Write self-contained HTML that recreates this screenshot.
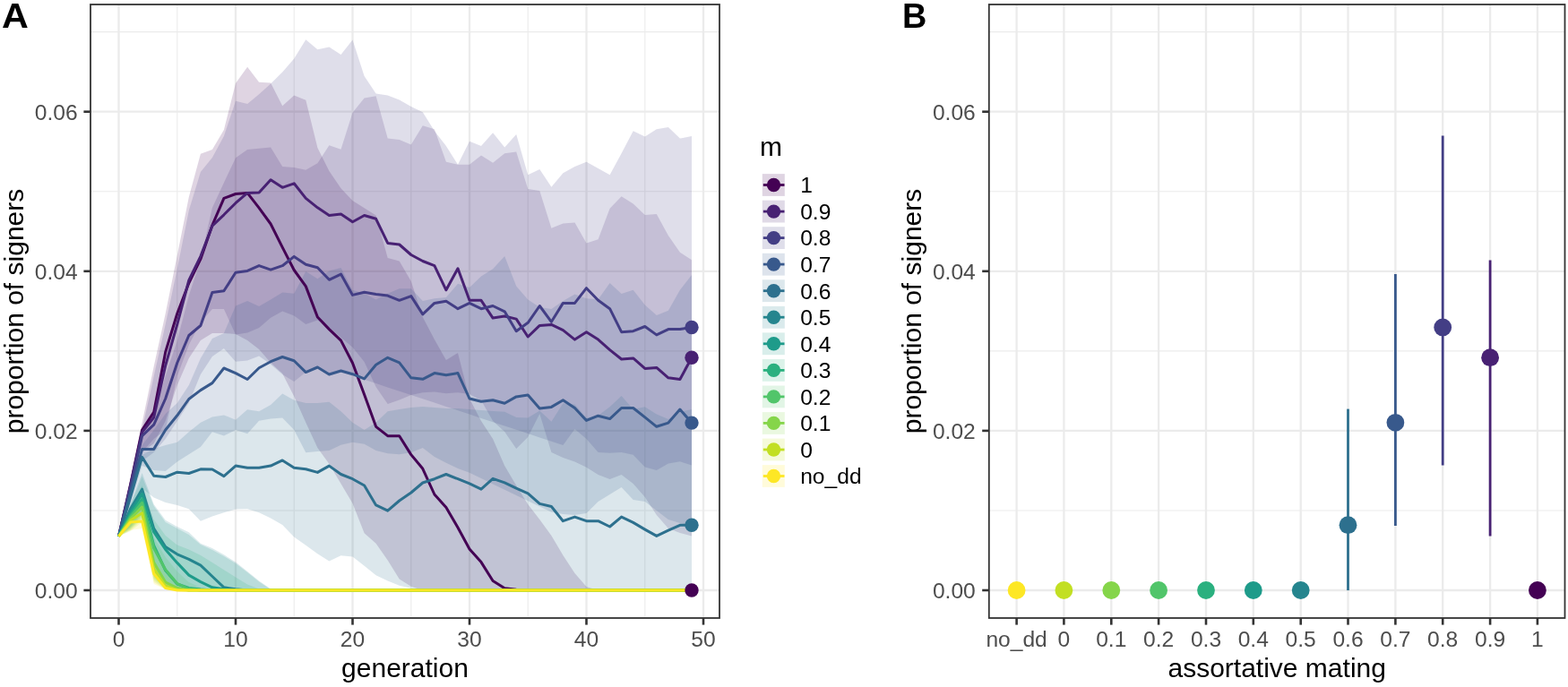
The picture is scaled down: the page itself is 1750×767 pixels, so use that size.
<!DOCTYPE html>
<html><head><meta charset="utf-8"><title>Figure</title>
<style>html,body{margin:0;padding:0;background:#fff;width:1750px;height:767px;overflow:hidden}</style>
</head><body>
<svg width="1750" height="767" viewBox="0 0 1750 767" style="display:block">
<rect width="1750" height="767" fill="#fff"/>
<g id="gridA" stroke="#EBEBEB" fill="none">
<line x1="101.0" x2="803.0" y1="570.0" y2="570.0" stroke-width="1.1"/>
<line x1="101.0" x2="803.0" y1="391.9" y2="391.9" stroke-width="1.1"/>
<line x1="101.0" x2="803.0" y1="213.8" y2="213.8" stroke-width="1.1"/>
<line x1="101.0" x2="803.0" y1="35.6" y2="35.6" stroke-width="1.1"/>
<line y1="5.0" y2="690.0" x1="197.8" x2="197.8" stroke-width="1.1"/>
<line y1="5.0" y2="690.0" x1="328.2" x2="328.2" stroke-width="1.1"/>
<line y1="5.0" y2="690.0" x1="458.8" x2="458.8" stroke-width="1.1"/>
<line y1="5.0" y2="690.0" x1="589.2" x2="589.2" stroke-width="1.1"/>
<line y1="5.0" y2="690.0" x1="719.8" x2="719.8" stroke-width="1.1"/>
<line x1="101.0" x2="803.0" y1="659.0" y2="659.0" stroke-width="2.3"/>
<line x1="101.0" x2="803.0" y1="480.9" y2="480.9" stroke-width="2.3"/>
<line x1="101.0" x2="803.0" y1="302.8" y2="302.8" stroke-width="2.3"/>
<line x1="101.0" x2="803.0" y1="124.7" y2="124.7" stroke-width="2.3"/>
<line y1="5.0" y2="690.0" x1="132.5" x2="132.5" stroke-width="2.3"/>
<line y1="5.0" y2="690.0" x1="263.0" x2="263.0" stroke-width="2.3"/>
<line y1="5.0" y2="690.0" x1="393.5" x2="393.5" stroke-width="2.3"/>
<line y1="5.0" y2="690.0" x1="524.0" x2="524.0" stroke-width="2.3"/>
<line y1="5.0" y2="690.0" x1="654.5" x2="654.5" stroke-width="2.3"/>
<line y1="5.0" y2="690.0" x1="785.0" x2="785.0" stroke-width="2.3"/>
</g>
<g id="ribbons" stroke="none">
<polygon points="132.5,598.8 145.6,535.0 158.6,472.0 171.7,409.0 184.7,350.0 197.8,285.0 210.8,220.0 223.9,171.7 236.9,167.0 249.9,145.0 263.0,92.9 276.1,74.8 289.1,91.8 302.1,92.6 315.2,118.3 328.2,106.4 341.3,111.8 354.4,165.0 367.4,191.1 380.5,210.3 393.5,224.0 406.6,232.3 419.6,240.5 432.7,288.0 445.7,291.4 458.8,314.0 471.8,354.0 484.9,379.0 497.9,402.0 511.0,394.0 524.0,445.0 537.0,470.0 550.1,490.0 563.2,520.0 576.2,542.0 589.2,563.0 602.3,580.0 615.4,598.0 628.4,620.0 641.5,640.0 654.5,655.0 667.6,659.0 667.6,659.0 654.5,659.0 641.5,659.0 628.4,659.0 615.4,659.0 602.3,659.0 589.2,659.0 576.2,659.0 563.2,659.0 550.1,659.0 537.0,659.0 524.0,659.0 511.0,659.0 497.9,659.0 484.9,659.0 471.8,659.0 458.8,654.7 445.7,646.4 432.7,625.5 419.6,606.8 406.6,595.3 393.5,562.0 380.5,540.0 367.4,518.0 354.4,500.0 341.3,471.8 328.2,442.6 315.2,417.0 302.1,405.0 289.1,390.0 276.1,380.0 263.0,373.0 249.9,372.0 236.9,372.0 223.9,380.0 210.8,400.0 197.8,430.0 184.7,470.0 171.7,495.0 158.6,505.0 145.6,556.0 132.5,598.8" fill="#440154" fill-opacity="0.17"/>
<polygon points="132.5,598.8 145.6,539.0 158.6,487.0 171.7,462.0 184.7,420.0 197.8,380.0 210.8,330.0 223.9,290.0 236.9,232.0 249.9,204.0 263.0,176.3 276.1,167.1 289.1,165.8 302.1,164.4 315.2,185.9 328.2,187.0 341.3,189.8 354.4,182.2 367.4,162.3 380.5,166.7 393.5,125.8 406.6,109.4 419.6,107.3 432.7,154.6 445.7,156.0 458.8,161.5 471.8,140.2 484.9,144.2 497.9,180.7 511.0,183.8 524.0,183.8 537.0,173.4 550.1,181.7 563.2,171.3 576.2,169.6 589.2,210.9 602.3,213.0 615.4,254.7 628.4,249.5 641.5,248.5 654.5,271.4 667.6,267.2 680.6,232.8 693.6,219.3 706.7,227.6 719.8,240.1 732.8,239.1 745.9,263.1 758.9,281.8 772.0,290.2 772.0,598.4 758.9,595.0 745.9,590.0 732.8,575.0 719.8,555.0 706.7,540.0 693.6,530.0 680.6,535.0 667.6,530.0 654.5,521.8 641.5,515.5 628.4,511.0 615.4,505.0 602.3,462.0 589.2,488.0 576.2,501.0 563.2,482.0 550.1,470.0 537.0,447.0 524.0,440.0 511.0,438.3 497.9,439.2 484.9,437.4 471.8,438.3 458.8,441.0 445.7,446.5 432.7,451.0 419.6,432.0 406.6,404.0 393.5,387.8 380.5,376.8 367.4,365.8 354.4,357.6 341.3,362.0 328.2,352.6 315.2,347.4 302.1,354.7 289.1,366.1 276.1,371.4 263.0,373.4 249.9,345.0 236.9,345.0 223.9,360.0 210.8,385.0 197.8,420.0 184.7,480.0 171.7,490.0 158.6,505.0 145.6,557.0 132.5,598.8" fill="#482173" fill-opacity="0.17"/>
<polygon points="132.5,598.8 145.6,537.0 158.6,480.0 171.7,420.0 184.7,362.0 197.8,300.0 210.8,235.0 223.9,192.0 236.9,176.0 249.9,152.0 263.0,112.8 276.1,116.0 289.1,105.3 302.1,93.6 315.2,80.6 328.2,65.5 341.3,44.2 354.4,55.3 367.4,52.6 380.5,60.9 393.5,44.4 406.6,85.0 419.6,104.6 432.7,106.6 445.7,111.4 458.8,119.0 471.8,125.2 484.9,146.3 497.9,163.0 511.0,183.8 524.0,157.7 537.0,162.9 550.1,148.3 563.2,164.6 576.2,150.0 589.2,195.3 602.3,189.0 615.4,208.8 628.4,193.2 641.5,185.9 654.5,180.7 667.6,188.0 680.6,195.3 693.6,171.3 706.7,146.3 719.8,152.5 732.8,144.2 745.9,142.1 758.9,154.6 772.0,152.1 772.0,519.5 758.9,515.3 745.9,517.4 732.8,525.0 719.8,521.5 706.7,507.8 693.6,505.0 680.6,505.7 667.6,505.0 654.5,490.0 641.5,479.0 628.4,497.0 615.4,492.7 602.3,488.4 589.2,484.1 576.2,479.8 563.2,475.5 550.1,471.2 537.0,466.9 524.0,462.6 511.0,458.2 497.9,453.9 484.9,449.6 471.8,445.3 458.8,441.0 445.7,436.7 432.7,432.4 419.6,428.1 406.6,423.8 393.5,417.5 380.5,414.4 367.4,417.5 354.4,409.2 341.3,415.5 328.2,425.9 315.2,418.0 302.1,406.8 289.1,397.4 276.1,402.6 263.0,403.7 249.9,389.1 236.9,398.0 223.9,418.0 210.8,450.0 197.8,470.0 184.7,490.0 171.7,505.0 158.6,515.0 145.6,558.0 132.5,598.8" fill="#433E85" fill-opacity="0.17"/>
<polygon points="132.5,598.8 145.6,543.0 158.6,497.0 171.7,480.0 184.7,462.0 197.8,450.0 210.8,430.0 223.9,400.0 236.9,378.0 249.9,372.0 263.0,341.5 276.1,336.0 289.1,342.0 302.1,334.6 315.2,326.4 328.2,327.8 341.3,303.1 354.4,311.3 367.4,302.4 380.5,299.0 393.5,323.7 406.6,327.8 419.6,334.6 432.7,327.8 445.7,322.3 458.8,322.3 471.8,336.0 484.9,333.3 497.9,331.9 511.0,316.8 524.0,320.9 537.0,308.6 550.1,300.3 563.2,286.0 576.2,319.5 589.2,334.6 602.3,342.9 615.4,345.0 628.4,336.0 641.5,328.5 654.5,333.3 667.6,334.3 680.6,316.0 693.6,328.0 706.7,323.8 719.8,340.5 732.8,352.0 745.9,346.7 758.9,323.8 772.0,307.1 772.0,586.9 758.9,584.0 745.9,580.0 732.8,570.0 719.8,560.0 706.7,558.0 693.6,544.0 680.6,552.0 667.6,560.0 654.5,573.0 641.5,575.0 628.4,574.0 615.4,571.8 602.3,565.6 589.2,559.3 576.2,553.0 563.2,546.7 550.1,540.4 537.0,534.1 524.0,527.8 511.0,523.0 497.9,516.8 484.9,510.0 471.8,500.0 458.8,505.2 445.7,507.2 432.7,506.2 419.6,503.1 406.6,495.8 393.5,493.7 380.5,496.8 367.4,503.1 354.4,504.1 341.3,505.2 328.2,480.1 315.2,466.6 302.1,467.6 289.1,469.7 276.1,484.3 263.0,480.1 249.9,486.4 236.9,482.2 223.9,498.9 210.8,507.2 197.8,515.6 184.7,526.0 171.7,525.0 158.6,520.0 145.6,562.0 132.5,598.8" fill="#38598C" fill-opacity="0.17"/>
<polygon points="132.5,598.8 145.6,548.0 158.6,508.0 171.7,501.0 184.7,497.0 197.8,493.7 210.8,482.2 223.9,471.8 236.9,465.5 249.9,463.4 263.0,468.7 276.1,457.2 289.1,459.3 302.1,452.0 315.2,439.4 328.2,446.8 341.3,449.9 354.4,449.9 367.4,448.8 380.5,459.3 393.5,471.8 406.6,480.1 419.6,471.8 432.7,459.3 445.7,457.0 458.8,455.0 471.8,454.0 484.9,455.0 497.9,456.0 511.0,456.0 524.0,457.0 537.0,458.0 550.1,459.0 563.2,459.8 576.2,466.0 589.2,466.6 602.3,458.4 615.4,470.7 628.4,450.2 641.5,451.5 654.5,466.6 667.6,463.9 680.6,454.3 693.6,441.9 706.7,457.0 719.8,454.3 732.8,462.5 745.9,468.0 758.9,459.8 772.0,457.0 772.0,659.0 758.9,659.0 745.9,659.0 732.8,659.0 719.8,659.0 706.7,659.0 693.6,659.0 680.6,659.0 667.6,659.0 654.5,659.0 641.5,659.0 628.4,659.0 615.4,659.0 602.3,659.0 589.2,659.0 576.2,659.0 563.2,659.0 550.1,659.0 537.0,659.0 524.0,659.0 511.0,659.0 497.9,659.0 484.9,659.0 471.8,659.0 458.8,656.8 445.7,653.7 432.7,648.5 419.6,642.2 406.6,631.8 393.5,621.4 380.5,620.3 367.4,626.6 354.4,618.2 341.3,608.8 328.2,599.4 315.2,585.9 302.1,578.6 289.1,572.3 276.1,568.2 263.0,568.6 249.9,572.3 236.9,576.5 223.9,581.7 210.8,568.2 197.8,564.0 184.7,560.9 171.7,555.6 158.6,545.0 145.6,568.0 132.5,598.8" fill="#2D708E" fill-opacity="0.17"/>
<polygon points="132.5,598.8 145.6,562.0 158.6,528.0 171.7,562.9 184.7,580.7 197.8,588.0 210.8,594.2 223.9,606.8 236.9,612.0 249.9,619.3 263.0,627.6 276.1,638.0 289.1,648.5 302.1,657.6 315.2,659.0 315.2,659.0 302.1,659.0 289.1,659.0 276.1,659.0 263.0,659.0 249.9,659.0 236.9,659.0 223.9,659.0 210.8,659.0 197.8,659.0 184.7,655.0 171.7,640.0 158.6,572.0 145.6,588.0 132.5,598.8" fill="#25858E" fill-opacity="0.17"/>
<polygon points="132.5,598.8 145.6,564.0 158.6,532.0 171.7,565.0 184.7,583.0 197.8,590.0 210.8,597.0 223.9,608.0 236.9,614.0 249.9,621.0 263.0,629.0 276.1,639.0 289.1,649.5 302.1,658.0 315.2,659.0 315.2,659.0 302.1,659.0 289.1,659.0 276.1,659.0 263.0,659.0 249.9,659.0 236.9,659.0 223.9,659.0 210.8,659.0 197.8,659.0 184.7,656.0 171.7,642.0 158.6,574.0 145.6,589.0 132.5,598.8" fill="#1E9B8A" fill-opacity="0.17"/>
<polygon points="132.5,598.8 145.6,567.0 158.6,542.0 171.7,580.0 184.7,598.0 197.8,608.5 210.8,613.4 223.9,619.9 236.9,628.0 249.9,636.2 263.0,644.4 276.1,652.5 289.1,657.4 302.1,659.0 302.1,659.0 289.1,659.0 276.1,659.0 263.0,659.0 249.9,659.0 236.9,659.0 223.9,659.0 210.8,659.0 197.8,659.0 184.7,657.0 171.7,644.0 158.6,576.0 145.6,590.0 132.5,598.8" fill="#2BB07F" fill-opacity="0.17"/>
<polygon points="132.5,598.8 145.6,570.0 158.6,550.0 171.7,600.0 184.7,622.0 197.8,638.0 210.8,650.0 223.9,656.0 236.9,659.0 236.9,659.0 223.9,659.0 210.8,659.0 197.8,659.0 184.7,657.0 171.7,646.0 158.6,578.0 145.6,591.0 132.5,598.8" fill="#51C56A" fill-opacity="0.17"/>
<polygon points="132.5,598.8 145.6,573.0 158.6,558.0 171.7,612.0 184.7,640.0 197.8,652.0 210.8,659.0 210.8,659.0 197.8,659.0 184.7,658.0 171.7,648.0 158.6,580.0 145.6,592.0 132.5,598.8" fill="#85D54A" fill-opacity="0.17"/>
<polygon points="132.5,598.8 145.6,576.0 158.6,565.0 171.7,625.0 184.7,648.0 197.8,656.0 210.8,659.0 210.8,659.0 197.8,659.0 184.7,658.0 171.7,650.0 158.6,583.0 145.6,593.0 132.5,598.8" fill="#C2DF23" fill-opacity="0.17"/>
<polygon points="132.5,598.8 145.6,578.0 158.6,576.0 171.7,630.0 184.7,652.0 197.8,659.0 197.8,659.0 184.7,658.0 171.7,652.0 158.6,590.0 145.6,592.0 132.5,598.8" fill="#FDE725" fill-opacity="0.17"/>
</g>
<g id="lines" fill="none" stroke-width="3.0" stroke-linejoin="round">
<polyline points="132.5,598.8 145.6,541.0 158.6,480.0 171.7,460.2 184.7,393.0 197.8,350.0 210.8,316.0 223.9,289.2 236.9,251.5 249.9,221.3 263.0,216.5 276.1,215.4 289.1,232.2 302.1,250.0 315.2,276.1 328.2,301.5 341.3,319.6 354.4,354.0 367.4,367.6 380.5,380.1 393.5,405.2 406.6,440.5 419.6,476.3 432.7,486.7 445.7,486.7 458.8,507.6 471.8,523.3 484.9,552.0 497.9,566.5 511.0,589.0 524.0,613.0 537.0,627.6 550.1,648.5 563.2,656.8 576.2,658.3 589.2,659.0 602.3,659.0 615.4,659.0 628.4,659.0 641.5,659.0 654.5,659.0 667.6,659.0 680.6,659.0 693.6,659.0 706.7,659.0 719.8,659.0 732.8,659.0 745.9,659.0 758.9,659.0 772.0,659.0" stroke="#440154"/>
<polyline points="132.5,598.8 145.6,542.0 158.6,482.6 171.7,466.0 184.7,408.0 197.8,362.0 210.8,313.0 223.9,286.1 236.9,252.1 249.9,239.8 263.0,226.7 276.1,215.4 289.1,215.1 302.1,200.7 315.2,209.3 328.2,204.8 341.3,221.4 354.4,231.8 367.4,240.5 380.5,239.0 393.5,247.8 406.6,240.5 419.6,244.3 432.7,271.4 445.7,273.0 458.8,284.5 471.8,291.5 484.9,296.7 497.9,323.8 511.0,299.8 524.0,335.3 537.0,335.3 550.1,355.1 563.2,353.0 576.2,356.1 589.2,376.0 602.3,363.4 615.4,362.4 628.4,368.7 641.5,379.1 654.5,370.7 667.6,379.1 680.6,390.6 693.6,401.0 706.7,399.9 719.8,411.4 732.8,410.4 745.9,421.8 758.9,423.5 772.0,399.3" stroke="#482173"/>
<polyline points="132.5,598.8 145.6,544.0 158.6,486.7 171.7,474.2 184.7,445.0 197.8,405.0 210.8,374.5 223.9,363.5 236.9,326.5 249.9,324.8 263.0,304.2 276.1,302.4 289.1,296.6 302.1,301.2 315.2,296.7 328.2,286.4 341.3,295.2 354.4,298.8 367.4,312.3 380.5,306.1 393.5,329.4 406.6,326.3 419.6,328.4 432.7,330.1 445.7,335.3 458.8,330.6 471.8,350.9 484.9,338.4 497.9,336.3 511.0,344.7 524.0,338.4 537.0,344.7 550.1,341.5 563.2,347.8 576.2,369.7 589.2,360.3 602.3,341.5 615.4,359.3 628.4,338.4 641.5,338.4 654.5,321.7 667.6,335.3 680.6,344.7 693.6,370.7 706.7,369.7 719.8,364.5 732.8,373.9 745.9,367.6 758.9,367.6 772.0,365.5" stroke="#433E85"/>
<polyline points="132.5,598.8 145.6,549.0 158.6,501.4 171.7,501.4 184.7,480.0 197.8,463.8 210.8,445.5 223.9,435.6 236.9,427.6 249.9,411.0 263.0,416.6 276.1,423.5 289.1,410.7 302.1,403.7 315.2,398.5 328.2,402.7 341.3,415.6 354.4,410.0 367.4,418.0 380.5,414.0 393.5,417.7 406.6,422.9 419.6,407.2 432.7,399.3 445.7,404.8 458.8,421.8 471.8,423.3 484.9,416.6 497.9,418.7 511.0,416.6 524.0,445.0 537.0,448.2 550.1,446.7 563.2,450.2 576.2,442.9 589.2,440.9 602.3,455.9 615.4,454.4 628.4,446.7 641.5,455.5 654.5,469.4 667.6,464.2 680.6,467.6 693.6,455.5 706.7,455.5 719.8,465.9 732.8,476.3 745.9,472.1 758.9,457.1 772.0,472.1" stroke="#38598C"/>
<polyline points="132.5,598.8 145.6,555.0 158.6,510.4 171.7,531.3 184.7,532.5 197.8,527.2 210.8,528.5 223.9,523.8 236.9,524.0 249.9,531.6 263.0,520.1 276.1,522.2 289.1,522.2 302.1,520.1 315.2,513.9 328.2,522.2 341.3,523.7 354.4,527.4 367.4,520.1 380.5,529.5 393.5,534.7 406.6,542.0 419.6,563.9 432.7,570.2 445.7,559.0 458.8,550.0 471.8,539.0 484.9,534.7 497.9,529.5 511.0,534.7 524.0,539.9 537.0,546.2 550.1,534.3 563.2,538.9 576.2,545.2 589.2,550.8 602.3,562.4 615.4,565.5 628.4,581.7 641.5,577.1 654.5,581.7 667.6,581.7 680.6,588.0 693.6,577.1 706.7,583.4 719.8,591.1 732.8,598.4 745.9,592.1 758.9,586.3 772.0,586.3" stroke="#2D708E"/>
<polyline points="132.5,598.8 145.6,568.0 158.6,546.2 171.7,590.1 184.7,610.6 197.8,618.8 210.8,624.3 223.9,631.2 236.9,643.5 249.9,655.8 263.0,657.8 276.1,659.0 289.1,659.0 302.1,659.0 315.2,659.0 328.2,659.0 341.3,659.0 354.4,659.0 367.4,659.0 380.5,659.0 393.5,659.0 406.6,659.0 419.6,659.0 432.7,659.0 445.7,659.0 458.8,659.0 471.8,659.0 484.9,659.0 497.9,659.0 511.0,659.0 524.0,659.0 537.0,659.0 550.1,659.0 563.2,659.0 576.2,659.0 589.2,659.0 602.3,659.0 615.4,659.0 628.4,659.0 641.5,659.0 654.5,659.0 667.6,659.0 680.6,659.0 693.6,659.0 706.7,659.0 719.8,659.0 732.8,659.0 745.9,659.0 758.9,659.0 772.0,659.0" stroke="#25858E"/>
<polyline points="132.5,598.8 145.6,572.0 158.6,551.4 171.7,594.0 184.7,613.4 197.8,628.4 210.8,642.1 223.9,649.6 236.9,655.8 249.9,657.8 263.0,659.0 276.1,659.0 289.1,659.0 302.1,659.0 315.2,659.0 328.2,659.0 341.3,659.0 354.4,659.0 367.4,659.0 380.5,659.0 393.5,659.0 406.6,659.0 419.6,659.0 432.7,659.0 445.7,659.0 458.8,659.0 471.8,659.0 484.9,659.0 497.9,659.0 511.0,659.0 524.0,659.0 537.0,659.0 550.1,659.0 563.2,659.0 576.2,659.0 589.2,659.0 602.3,659.0 615.4,659.0 628.4,659.0 641.5,659.0 654.5,659.0 667.6,659.0 680.6,659.0 693.6,659.0 706.7,659.0 719.8,659.0 732.8,659.0 745.9,659.0 758.9,659.0 772.0,659.0" stroke="#1E9B8A"/>
<polyline points="132.5,598.8 145.6,575.0 158.6,557.1 171.7,609.0 184.7,637.0 197.8,652.0 210.8,656.5 223.9,658.0 236.9,659.0 249.9,659.0 263.0,659.0 276.1,659.0 289.1,659.0 302.1,659.0 315.2,659.0 328.2,659.0 341.3,659.0 354.4,659.0 367.4,659.0 380.5,659.0 393.5,659.0 406.6,659.0 419.6,659.0 432.7,659.0 445.7,659.0 458.8,659.0 471.8,659.0 484.9,659.0 497.9,659.0 511.0,659.0 524.0,659.0 537.0,659.0 550.1,659.0 563.2,659.0 576.2,659.0 589.2,659.0 602.3,659.0 615.4,659.0 628.4,659.0 641.5,659.0 654.5,659.0 667.6,659.0 680.6,659.0 693.6,659.0 706.7,659.0 719.8,659.0 732.8,659.0 745.9,659.0 758.9,659.0 772.0,659.0" stroke="#2BB07F"/>
<polyline points="132.5,598.8 145.6,577.0 158.6,561.3 171.7,612.0 184.7,636.0 197.8,651.5 210.8,657.5 223.9,659.0 236.9,659.0 249.9,659.0 263.0,659.0 276.1,659.0 289.1,659.0 302.1,659.0 315.2,659.0 328.2,659.0 341.3,659.0 354.4,659.0 367.4,659.0 380.5,659.0 393.5,659.0 406.6,659.0 419.6,659.0 432.7,659.0 445.7,659.0 458.8,659.0 471.8,659.0 484.9,659.0 497.9,659.0 511.0,659.0 524.0,659.0 537.0,659.0 550.1,659.0 563.2,659.0 576.2,659.0 589.2,659.0 602.3,659.0 615.4,659.0 628.4,659.0 641.5,659.0 654.5,659.0 667.6,659.0 680.6,659.0 693.6,659.0 706.7,659.0 719.8,659.0 732.8,659.0 745.9,659.0 758.9,659.0 772.0,659.0" stroke="#51C56A"/>
<polyline points="132.5,598.8 145.6,579.0 158.6,566.0 171.7,628.0 184.7,650.0 197.8,656.5 210.8,659.0 223.9,659.0 236.9,659.0 249.9,659.0 263.0,659.0 276.1,659.0 289.1,659.0 302.1,659.0 315.2,659.0 328.2,659.0 341.3,659.0 354.4,659.0 367.4,659.0 380.5,659.0 393.5,659.0 406.6,659.0 419.6,659.0 432.7,659.0 445.7,659.0 458.8,659.0 471.8,659.0 484.9,659.0 497.9,659.0 511.0,659.0 524.0,659.0 537.0,659.0 550.1,659.0 563.2,659.0 576.2,659.0 589.2,659.0 602.3,659.0 615.4,659.0 628.4,659.0 641.5,659.0 654.5,659.0 667.6,659.0 680.6,659.0 693.6,659.0 706.7,659.0 719.8,659.0 732.8,659.0 745.9,659.0 758.9,659.0 772.0,659.0" stroke="#85D54A"/>
<polyline points="132.5,598.8 145.6,581.0 158.6,572.8 171.7,635.0 184.7,654.0 197.8,658.5 210.8,659.0 223.9,659.0 236.9,659.0 249.9,659.0 263.0,659.0 276.1,659.0 289.1,659.0 302.1,659.0 315.2,659.0 328.2,659.0 341.3,659.0 354.4,659.0 367.4,659.0 380.5,659.0 393.5,659.0 406.6,659.0 419.6,659.0 432.7,659.0 445.7,659.0 458.8,659.0 471.8,659.0 484.9,659.0 497.9,659.0 511.0,659.0 524.0,659.0 537.0,659.0 550.1,659.0 563.2,659.0 576.2,659.0 589.2,659.0 602.3,659.0 615.4,659.0 628.4,659.0 641.5,659.0 654.5,659.0 667.6,659.0 680.6,659.0 693.6,659.0 706.7,659.0 719.8,659.0 732.8,659.0 745.9,659.0 758.9,659.0 772.0,659.0" stroke="#C2DF23"/>
<polyline points="132.5,598.8 145.6,583.0 158.6,582.0 171.7,640.5 184.7,656.6 197.8,659.0 210.8,659.0 223.9,659.0 236.9,659.0 249.9,659.0 263.0,659.0 276.1,659.0 289.1,659.0 302.1,659.0 315.2,659.0 328.2,659.0 341.3,659.0 354.4,659.0 367.4,659.0 380.5,659.0 393.5,659.0 406.6,659.0 419.6,659.0 432.7,659.0 445.7,659.0 458.8,659.0 471.8,659.0 484.9,659.0 497.9,659.0 511.0,659.0 524.0,659.0 537.0,659.0 550.1,659.0 563.2,659.0 576.2,659.0 589.2,659.0 602.3,659.0 615.4,659.0 628.4,659.0 641.5,659.0 654.5,659.0 667.6,659.0 680.6,659.0 693.6,659.0 706.7,659.0 719.8,659.0 732.8,659.0 745.9,659.0 758.9,659.0 772.0,659.0" stroke="#FDE725"/>
</g>
<g id="endpts">
<circle cx="772.0" cy="586.3" r="7.7" fill="#2D708E"/>
<circle cx="772.0" cy="472.1" r="7.7" fill="#38598C"/>
<circle cx="772.0" cy="399.3" r="7.7" fill="#482173"/>
<circle cx="772.0" cy="365.5" r="7.7" fill="#433E85"/>
<circle cx="772.0" cy="659.0" r="7.7" fill="#440154"/>
</g>
<rect x="101.0" y="5.0" width="702.0" height="685.0" fill="none" stroke="#333" stroke-width="1.8"/>
<g stroke="#333" stroke-width="2.6">
<line x1="93.4" x2="101.0" y1="659.0" y2="659.0"/>
<line x1="93.4" x2="101.0" y1="480.9" y2="480.9"/>
<line x1="93.4" x2="101.0" y1="302.8" y2="302.8"/>
<line x1="93.4" x2="101.0" y1="124.7" y2="124.7"/>
<line y1="690.0" y2="697.6" x1="132.5" x2="132.5"/>
<line y1="690.0" y2="697.6" x1="263.0" x2="263.0"/>
<line y1="690.0" y2="697.6" x1="393.5" x2="393.5"/>
<line y1="690.0" y2="697.6" x1="524.0" x2="524.0"/>
<line y1="690.0" y2="697.6" x1="654.5" x2="654.5"/>
<line y1="690.0" y2="697.6" x1="785.0" x2="785.0"/>
</g>
<g font-family="Liberation Sans, Arial, Helvetica, sans-serif" font-size="24.6" fill="#4D4D4D">
<text x="86.6" y="668.1" text-anchor="end">0.00</text>
<text x="86.6" y="490.0" text-anchor="end">0.02</text>
<text x="86.6" y="311.9" text-anchor="end">0.04</text>
<text x="86.6" y="133.8" text-anchor="end">0.06</text>
<text x="132.5" y="721.7" text-anchor="middle">0</text>
<text x="263.0" y="721.7" text-anchor="middle">10</text>
<text x="393.5" y="721.7" text-anchor="middle">20</text>
<text x="524.0" y="721.7" text-anchor="middle">30</text>
<text x="654.5" y="721.7" text-anchor="middle">40</text>
<text x="785.0" y="721.7" text-anchor="middle">50</text>
</g>
<g font-family="Liberation Sans, Arial, Helvetica, sans-serif" font-size="30" fill="#000">
<text x="452.0" y="756.2" text-anchor="middle">generation</text>
<text transform="translate(25.6,347.5) rotate(-90)" text-anchor="middle">proportion of signers</text>
</g>
<g font-family="Liberation Sans, Arial, Helvetica, sans-serif">
<text x="848" y="173.9" font-size="30" fill="#000">m</text>
<rect x="850.8" y="194.1" width="25" height="24.8" fill="#440154" fill-opacity="0.17"/>
<line x1="851.8" x2="875.5" y1="206.5" y2="206.5" stroke="#440154" stroke-width="2.8"/>
<circle cx="863.5" cy="206.5" r="7.7" fill="#440154"/>
<text x="893.2" y="215.3" font-size="24.6" fill="#000">1</text>
<rect x="850.8" y="223.7" width="25" height="24.8" fill="#482173" fill-opacity="0.17"/>
<line x1="851.8" x2="875.5" y1="236.1" y2="236.1" stroke="#482173" stroke-width="2.8"/>
<circle cx="863.5" cy="236.1" r="7.7" fill="#482173"/>
<text x="893.2" y="244.9" font-size="24.6" fill="#000">0.9</text>
<rect x="850.8" y="253.2" width="25" height="24.8" fill="#433E85" fill-opacity="0.17"/>
<line x1="851.8" x2="875.5" y1="265.6" y2="265.6" stroke="#433E85" stroke-width="2.8"/>
<circle cx="863.5" cy="265.6" r="7.7" fill="#433E85"/>
<text x="893.2" y="274.4" font-size="24.6" fill="#000">0.8</text>
<rect x="850.8" y="282.8" width="25" height="24.8" fill="#38598C" fill-opacity="0.17"/>
<line x1="851.8" x2="875.5" y1="295.1" y2="295.1" stroke="#38598C" stroke-width="2.8"/>
<circle cx="863.5" cy="295.1" r="7.7" fill="#38598C"/>
<text x="893.2" y="303.9" font-size="24.6" fill="#000">0.7</text>
<rect x="850.8" y="312.3" width="25" height="24.8" fill="#2D708E" fill-opacity="0.17"/>
<line x1="851.8" x2="875.5" y1="324.7" y2="324.7" stroke="#2D708E" stroke-width="2.8"/>
<circle cx="863.5" cy="324.7" r="7.7" fill="#2D708E"/>
<text x="893.2" y="333.5" font-size="24.6" fill="#000">0.6</text>
<rect x="850.8" y="341.9" width="25" height="24.8" fill="#25858E" fill-opacity="0.17"/>
<line x1="851.8" x2="875.5" y1="354.2" y2="354.2" stroke="#25858E" stroke-width="2.8"/>
<circle cx="863.5" cy="354.2" r="7.7" fill="#25858E"/>
<text x="893.2" y="363.1" font-size="24.6" fill="#000">0.5</text>
<rect x="850.8" y="371.4" width="25" height="24.8" fill="#1E9B8A" fill-opacity="0.17"/>
<line x1="851.8" x2="875.5" y1="383.8" y2="383.8" stroke="#1E9B8A" stroke-width="2.8"/>
<circle cx="863.5" cy="383.8" r="7.7" fill="#1E9B8A"/>
<text x="893.2" y="392.6" font-size="24.6" fill="#000">0.4</text>
<rect x="850.8" y="401.0" width="25" height="24.8" fill="#2BB07F" fill-opacity="0.17"/>
<line x1="851.8" x2="875.5" y1="413.4" y2="413.4" stroke="#2BB07F" stroke-width="2.8"/>
<circle cx="863.5" cy="413.4" r="7.7" fill="#2BB07F"/>
<text x="893.2" y="422.2" font-size="24.6" fill="#000">0.3</text>
<rect x="850.8" y="430.5" width="25" height="24.8" fill="#51C56A" fill-opacity="0.17"/>
<line x1="851.8" x2="875.5" y1="442.9" y2="442.9" stroke="#51C56A" stroke-width="2.8"/>
<circle cx="863.5" cy="442.9" r="7.7" fill="#51C56A"/>
<text x="893.2" y="451.7" font-size="24.6" fill="#000">0.2</text>
<rect x="850.8" y="460.1" width="25" height="24.8" fill="#85D54A" fill-opacity="0.17"/>
<line x1="851.8" x2="875.5" y1="472.4" y2="472.4" stroke="#85D54A" stroke-width="2.8"/>
<circle cx="863.5" cy="472.4" r="7.7" fill="#85D54A"/>
<text x="893.2" y="481.2" font-size="24.6" fill="#000">0.1</text>
<rect x="850.8" y="489.6" width="25" height="24.8" fill="#C2DF23" fill-opacity="0.17"/>
<line x1="851.8" x2="875.5" y1="502.0" y2="502.0" stroke="#C2DF23" stroke-width="2.8"/>
<circle cx="863.5" cy="502.0" r="7.7" fill="#C2DF23"/>
<text x="893.2" y="510.8" font-size="24.6" fill="#000">0</text>
<rect x="850.8" y="519.1" width="25" height="24.8" fill="#FDE725" fill-opacity="0.17"/>
<line x1="851.8" x2="875.5" y1="531.5" y2="531.5" stroke="#FDE725" stroke-width="2.8"/>
<circle cx="863.5" cy="531.5" r="7.7" fill="#FDE725"/>
<text x="893.2" y="540.3" font-size="24.6" fill="#000">no_dd</text>
</g>
<g stroke="#EBEBEB" fill="none">
<line x1="1103.8" x2="1746.5" y1="570.0" y2="570.0" stroke-width="1.1"/>
<line x1="1103.8" x2="1746.5" y1="391.9" y2="391.9" stroke-width="1.1"/>
<line x1="1103.8" x2="1746.5" y1="213.8" y2="213.8" stroke-width="1.1"/>
<line x1="1103.8" x2="1746.5" y1="35.6" y2="35.6" stroke-width="1.1"/>
<line x1="1103.8" x2="1746.5" y1="659.0" y2="659.0" stroke-width="2.3"/>
<line x1="1103.8" x2="1746.5" y1="480.9" y2="480.9" stroke-width="2.3"/>
<line x1="1103.8" x2="1746.5" y1="302.8" y2="302.8" stroke-width="2.3"/>
<line x1="1103.8" x2="1746.5" y1="124.7" y2="124.7" stroke-width="2.3"/>
<line y1="5.0" y2="690.0" x1="1134.6" x2="1134.6" stroke-width="2.3"/>
<line y1="5.0" y2="690.0" x1="1187.4" x2="1187.4" stroke-width="2.3"/>
<line y1="5.0" y2="690.0" x1="1240.3" x2="1240.3" stroke-width="2.3"/>
<line y1="5.0" y2="690.0" x1="1293.1" x2="1293.1" stroke-width="2.3"/>
<line y1="5.0" y2="690.0" x1="1346.0" x2="1346.0" stroke-width="2.3"/>
<line y1="5.0" y2="690.0" x1="1398.8" x2="1398.8" stroke-width="2.3"/>
<line y1="5.0" y2="690.0" x1="1451.7" x2="1451.7" stroke-width="2.3"/>
<line y1="5.0" y2="690.0" x1="1504.5" x2="1504.5" stroke-width="2.3"/>
<line y1="5.0" y2="690.0" x1="1557.4" x2="1557.4" stroke-width="2.3"/>
<line y1="5.0" y2="690.0" x1="1610.2" x2="1610.2" stroke-width="2.3"/>
<line y1="5.0" y2="690.0" x1="1663.1" x2="1663.1" stroke-width="2.3"/>
<line y1="5.0" y2="690.0" x1="1715.9" x2="1715.9" stroke-width="2.3"/>
</g>
<circle cx="1134.6" cy="659.0" r="9.9" fill="#FDE725"/>
<circle cx="1187.4" cy="659.0" r="9.9" fill="#C2DF23"/>
<circle cx="1240.3" cy="659.0" r="9.9" fill="#85D54A"/>
<circle cx="1293.1" cy="659.0" r="9.9" fill="#51C56A"/>
<circle cx="1346.0" cy="659.0" r="9.9" fill="#2BB07F"/>
<circle cx="1398.8" cy="659.0" r="9.9" fill="#1E9B8A"/>
<circle cx="1451.7" cy="659.0" r="9.9" fill="#25858E"/>
<line x1="1504.5" x2="1504.5" y1="456.6" y2="659.1" stroke="#2D708E" stroke-width="2.8"/>
<circle cx="1504.5" cy="586.2" r="9.9" fill="#2D708E"/>
<line x1="1557.4" x2="1557.4" y1="306" y2="586.9" stroke="#38598C" stroke-width="2.8"/>
<circle cx="1557.4" cy="471.8" r="9.9" fill="#38598C"/>
<line x1="1610.2" x2="1610.2" y1="151.4" y2="519.5" stroke="#433E85" stroke-width="2.8"/>
<circle cx="1610.2" cy="365.4" r="9.9" fill="#433E85"/>
<line x1="1663.1" x2="1663.1" y1="290.4" y2="598.4" stroke="#482173" stroke-width="2.8"/>
<circle cx="1663.1" cy="399.2" r="9.9" fill="#482173"/>
<circle cx="1715.9" cy="659.0" r="9.9" fill="#440154"/>
<rect x="1103.8" y="5.0" width="642.7" height="685.0" fill="none" stroke="#333" stroke-width="1.8"/>
<g stroke="#333" stroke-width="2.6">
<line x1="1096.2" x2="1103.8" y1="659.0" y2="659.0"/>
<line x1="1096.2" x2="1103.8" y1="480.9" y2="480.9"/>
<line x1="1096.2" x2="1103.8" y1="302.8" y2="302.8"/>
<line x1="1096.2" x2="1103.8" y1="124.7" y2="124.7"/>
<line y1="690.0" y2="697.6" x1="1134.6" x2="1134.6"/>
<line y1="690.0" y2="697.6" x1="1187.4" x2="1187.4"/>
<line y1="690.0" y2="697.6" x1="1240.3" x2="1240.3"/>
<line y1="690.0" y2="697.6" x1="1293.1" x2="1293.1"/>
<line y1="690.0" y2="697.6" x1="1346.0" x2="1346.0"/>
<line y1="690.0" y2="697.6" x1="1398.8" x2="1398.8"/>
<line y1="690.0" y2="697.6" x1="1451.7" x2="1451.7"/>
<line y1="690.0" y2="697.6" x1="1504.5" x2="1504.5"/>
<line y1="690.0" y2="697.6" x1="1557.4" x2="1557.4"/>
<line y1="690.0" y2="697.6" x1="1610.2" x2="1610.2"/>
<line y1="690.0" y2="697.6" x1="1663.1" x2="1663.1"/>
<line y1="690.0" y2="697.6" x1="1715.9" x2="1715.9"/>
</g>
<g font-family="Liberation Sans, Arial, Helvetica, sans-serif" font-size="24.6" fill="#4D4D4D">
<text x="1088.8" y="668.1" text-anchor="end">0.00</text>
<text x="1088.8" y="490.0" text-anchor="end">0.02</text>
<text x="1088.8" y="311.9" text-anchor="end">0.04</text>
<text x="1088.8" y="133.8" text-anchor="end">0.06</text>
<text x="1134.6" y="721.7" text-anchor="middle">no_dd</text>
<text x="1187.4" y="721.7" text-anchor="middle">0</text>
<text x="1240.3" y="721.7" text-anchor="middle">0.1</text>
<text x="1293.1" y="721.7" text-anchor="middle">0.2</text>
<text x="1346.0" y="721.7" text-anchor="middle">0.3</text>
<text x="1398.8" y="721.7" text-anchor="middle">0.4</text>
<text x="1451.7" y="721.7" text-anchor="middle">0.5</text>
<text x="1504.5" y="721.7" text-anchor="middle">0.6</text>
<text x="1557.4" y="721.7" text-anchor="middle">0.7</text>
<text x="1610.2" y="721.7" text-anchor="middle">0.8</text>
<text x="1663.1" y="721.7" text-anchor="middle">0.9</text>
<text x="1715.9" y="721.7" text-anchor="middle">1</text>
</g>
<g font-family="Liberation Sans, Arial, Helvetica, sans-serif" font-size="30" fill="#000">
<text x="1425.2" y="756.2" text-anchor="middle">assortative mating</text>
<text transform="translate(1028.2,347.5) rotate(-90)" text-anchor="middle">proportion of signers</text>
</g>
<text transform="translate(2.0,30.8) scale(1.07,1)" font-family="Liberation Sans, Arial, Helvetica, sans-serif" font-size="38.6" font-weight="bold" fill="#000">A</text>
<text transform="translate(1007.0,30.8) scale(0.98,1)" font-family="Liberation Sans, Arial, Helvetica, sans-serif" font-size="38.6" font-weight="bold" fill="#000">B</text>
</svg>
</body></html>
